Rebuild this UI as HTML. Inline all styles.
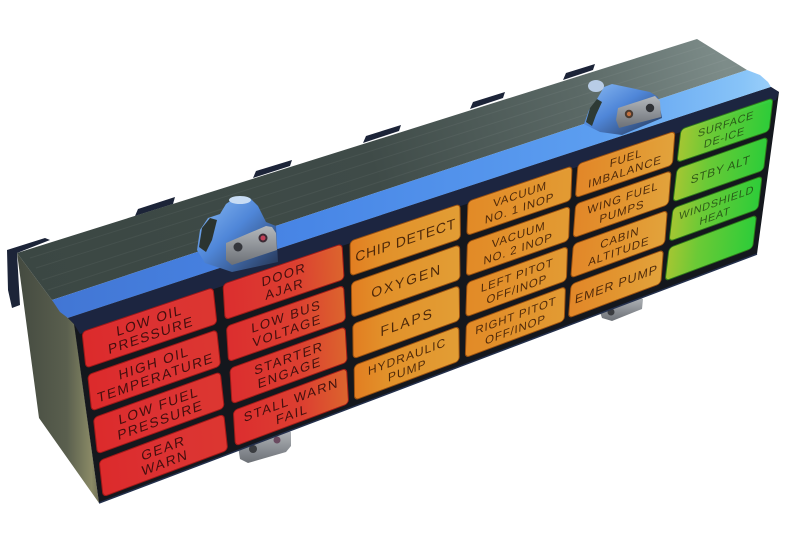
<!DOCTYPE html>
<html><head><meta charset="utf-8"><style>
html,body{margin:0;padding:0;background:#fff;}
svg{display:block;}
text{font-family:"Liberation Sans",sans-serif;}
</style></head><body>
<svg width="800" height="533" viewBox="0 0 800 533" xmlns="http://www.w3.org/2000/svg">
<defs>
<linearGradient id="topG" gradientUnits="userSpaceOnUse" x1="17" y1="253" x2="720" y2="50">
<stop offset="0" stop-color="#3b4743"/><stop offset="0.5" stop-color="#3f4b48"/><stop offset="0.8" stop-color="#5b6966"/><stop offset="1" stop-color="#7d8c89"/></linearGradient>
<linearGradient id="sideG" gradientUnits="userSpaceOnUse" x1="17" y1="0" x2="100" y2="0">
<stop offset="0" stop-color="#444a40"/><stop offset="0.6" stop-color="#5a5f4e"/><stop offset="0.9" stop-color="#8a8a66"/><stop offset="1" stop-color="#6e6e55"/></linearGradient>
<linearGradient id="bandG" gradientUnits="userSpaceOnUse" x1="52" y1="0" x2="780" y2="0">
<stop offset="0" stop-color="#4276d4"/><stop offset="0.35" stop-color="#4886e6"/><stop offset="0.75" stop-color="#5c9ef0"/><stop offset="0.95" stop-color="#88c4f8"/><stop offset="1" stop-color="#a0d2fa"/></linearGradient>
<linearGradient id="r1" x1="0" y1="0" x2="1" y2="0"><stop offset="0" stop-color="#ff2e2e"/><stop offset="0.5" stop-color="#ff3636"/><stop offset="1" stop-color="#ff3c34"/></linearGradient>
<linearGradient id="r2" x1="0" y1="0" x2="1" y2="0"><stop offset="0" stop-color="#ff3232"/><stop offset="0.6" stop-color="#ff4634"/><stop offset="1" stop-color="#ff7230"/></linearGradient>
<linearGradient id="o3" x1="0" y1="0" x2="1" y2="0"><stop offset="0" stop-color="#ff8c22"/><stop offset="0.3" stop-color="#ffa22c"/><stop offset="1" stop-color="#ffb038"/></linearGradient>
<linearGradient id="o4" x1="0" y1="0" x2="1" y2="0"><stop offset="0" stop-color="#ff9a28"/><stop offset="1" stop-color="#ffad36"/></linearGradient>
<linearGradient id="o5" x1="0" y1="0" x2="1" y2="0"><stop offset="0" stop-color="#ff962a"/><stop offset="0.5" stop-color="#ffa632"/><stop offset="1" stop-color="#ffb640"/></linearGradient>
<linearGradient id="g6" x1="0" y1="0" x2="1" y2="0"><stop offset="0" stop-color="#c8f238"/><stop offset="0.35" stop-color="#80f63c"/><stop offset="1" stop-color="#34fa40"/></linearGradient>
<linearGradient id="lugG" x1="0" y1="0" x2="1" y2="1"><stop offset="0" stop-color="#8cbcf4"/><stop offset="0.45" stop-color="#4f86d8"/><stop offset="1" stop-color="#24324e"/></linearGradient>
<linearGradient id="plateG" x1="0" y1="0" x2="0" y2="1"><stop offset="0" stop-color="#b4b8bc"/><stop offset="1" stop-color="#6c7076"/></linearGradient>
</defs>

<!-- back tabs -->
<polygon points="7,250 45,238 50,240 17,253 20,305 12,308 8,290" fill="#1c2438"/>
<polygon points="135,216 138,209 175,197 173,204" fill="#1c2438"/>
<polygon points="253,178 256,171 292,160 290,166" fill="#1c2438"/>
<polygon points="363,143 366,136 401,125 399,131" fill="#1c2438"/>
<polygon points="470,109 473,102 505,92 503,98" fill="#1c2438"/>
<polygon points="563,80 566,73 595,64 593,70" fill="#1c2438"/>

<!-- bottom lugs (behind bezel) -->
<polygon points="238,446 284,429 291,432 291,446 286,452 248,463 240,459" fill="url(#plateG)"/>
<circle cx="253" cy="449" r="4" fill="#3a3c40"/>
<circle cx="277" cy="440" r="3.5" fill="#6a4a60"/>
<polygon points="600,312 636,296 643,299 642,309 612,321 602,318" fill="url(#plateG)"/>
<circle cx="611" cy="312" r="3.5" fill="#3a3c40"/>

<!-- left side face -->
<polygon points="17,253 52,300 68,318 74,322 99,503 39,418" fill="url(#sideG)"/>
<!-- top face -->
<polygon points="17,253 697,39 747,70 52,300" fill="url(#topG)"/>
<g stroke="#ffffff" stroke-opacity="0.05" stroke-width="1">
<line x1="30" y1="258" x2="705" y2="46"/><line x1="36" y1="268" x2="715" y2="53"/><line x1="42" y1="280" x2="728" y2="59"/><line x1="48" y1="290" x2="738" y2="65"/>
</g>
<!-- blue band -->
<polygon points="52,300 747,70 760,75 768,82 771,87 68,318 60,312" fill="url(#bandG)"/>
<!-- bezel -->
<polygon points="68,318 771,87 779,92 757,254 99,503 74,324" fill="#14171d"/>
<polygon points="68,318 771,87 779,92 776,100 80,334 74,324" fill="#1c2540"/>
<line x1="99" y1="503" x2="757" y2="254" stroke="#24304c" stroke-width="1.5"/>

<!-- top lugs -->
<polygon points="197,250 200,230 208,218 220,214 226,204 236,197 250,198 258,206 266,222 276,226 278,262 232,272 205,263" fill="url(#lugG)"/>
<polygon points="199,247 202,228 210,218 217,220 212,240 206,252" fill="#2b3430"/>
<ellipse cx="240" cy="200" rx="11" ry="4" fill="#c8dcf4"/>
<polygon points="226,243 266,226 272,227 276,233 277,250 232,265 226,260" fill="url(#plateG)"/>
<circle cx="238" cy="247" r="4.5" fill="#34363c"/>
<circle cx="263" cy="238" r="4.5" fill="#3a2a34"/><circle cx="263" cy="238" r="2.5" fill="#c04058"/>

<polygon points="584,124 589,110 597,99 604,87 612,84 650,92 658,97 662,118 622,135 600,132" fill="url(#lugG)"/>
<polygon points="586,122 590,108 597,99 602,102 596,115 592,126" fill="#2e3a34"/>
<ellipse cx="596" cy="86" rx="8" ry="6" fill="#b8cce6"/>
<polygon points="618,108 655,96 660,101 661,117 619,128 616,120" fill="url(#plateG)"/>
<circle cx="629" cy="114" r="4.2" fill="#4a3a30"/><circle cx="629" cy="114" r="2.2" fill="#c07040"/>
<circle cx="650" cy="108" r="4.2" fill="#303236"/>

<!-- Column 1 -->
<g fill="#2a0808" fill-opacity="0.85" font-size="13.5" letter-spacing="1.4" text-anchor="middle">
<g transform="matrix(1 -0.3386 0.1096 1 82 332)"><rect width="131" height="36" rx="4" fill="url(#r1)" stroke="#a01818" stroke-width="1"/><text x="66.2" y="15.5">LOW OIL</text><text x="66.2" y="30.1">PRESSURE</text></g>
<g transform="matrix(1 -0.3499 0.1096 1 87.72 374.9)"><rect width="128.9" height="36" rx="4" fill="url(#r1)" stroke="#a01818" stroke-width="1"/><text x="65.1" y="15.5">HIGH OIL</text><text x="65.1" y="30.1">TEMPERATURE</text></g>
<g transform="matrix(1 -0.3616 0.1096 1 93.44 417.8)"><rect width="126.8" height="36" rx="4" fill="url(#r1)" stroke="#a01818" stroke-width="1"/><text x="64.1" y="15.5">LOW FUEL</text><text x="64.1" y="30.1">PRESSURE</text></g>
<g transform="matrix(1 -0.3737 0.1096 1 99.16 460.7)"><rect width="124.6" height="36" rx="4" fill="url(#r1)" stroke="#a01818" stroke-width="1"/><text x="63" y="15.5">GEAR</text><text x="63" y="30.1">WARN</text></g>
</g>
<!-- Column 2 -->
<g fill="#2a0808" fill-opacity="0.85" font-size="13" letter-spacing="1.4" text-anchor="middle">
<g transform="matrix(1 -0.3387 0.0593 1 223 284.26)"><rect width="119" height="35.3" rx="4" fill="url(#r2)" stroke="#a01c18" stroke-width="1"/><text x="60.2" y="15.2">DOOR</text><text x="60.2" y="29.5">AJAR</text></g>
<g transform="matrix(1 -0.3499 0.0593 1 226.44 326.36)"><rect width="117.1" height="35.3" rx="4" fill="url(#r2)" stroke="#a01c18" stroke-width="1"/><text x="59.2" y="15.2">LOW BUS</text><text x="59.2" y="29.5">VOLTAGE</text></g>
<g transform="matrix(1 -0.3616 0.0593 1 229.88 368.46)"><rect width="115.2" height="35.3" rx="4" fill="url(#r2)" stroke="#a01c18" stroke-width="1"/><text x="58.3" y="15.2">STARTER</text><text x="58.3" y="29.5">ENGAGE</text></g>
<g transform="matrix(1 -0.3737 0.0593 1 233.32 410.56)"><rect width="113.2" height="35.3" rx="4" fill="url(#r2)" stroke="#a01c18" stroke-width="1"/><text x="57.3" y="15.2">STALL WARN</text><text x="57.3" y="29.5">FAIL</text></g>
</g>
<!-- Column 3 -->
<g fill="#3a1a05" fill-opacity="0.88" text-anchor="middle">
<g transform="matrix(1 -0.3386 0.0121 1 350 241.26)"><rect width="110" height="34.75" rx="4" fill="url(#o3)" stroke="#9a5010" stroke-width="1"/><text x="55.4" y="22.4" font-size="14" letter-spacing="0.7">CHIP DETECT</text></g>
<g transform="matrix(1 -0.3499 0.0121 1 351.39 282.64)"><rect width="108.2" height="34.75" rx="4" fill="url(#o3)" stroke="#9a5010" stroke-width="1"/><text x="55" y="22.4" font-size="14" letter-spacing="1.8">OXYGEN</text></g>
<g transform="matrix(1 -0.3616 0.0121 1 352.77 324.02)"><rect width="106.4" height="34.75" rx="4" fill="url(#o3)" stroke="#9a5010" stroke-width="1"/><text x="54.1" y="22.4" font-size="14" letter-spacing="1.8">FLAPS</text></g>
<g transform="matrix(1 -0.3737 0.0121 1 354.16 365.4)" font-size="12" letter-spacing="1"><rect width="104.7" height="34.75" rx="4" fill="url(#o3)" stroke="#9a5010" stroke-width="1"/><text x="52.8" y="14.9">HYDRAULIC</text><text x="52.8" y="29">PUMP</text></g>
</g>
<!-- Column 4 -->
<g fill="#3a1a05" fill-opacity="0.88" font-size="11.5" letter-spacing="0.8" text-anchor="middle">
<g transform="matrix(1 -0.3386 -0.0338 1 468 201.3)"><rect width="104" height="34.2" rx="4" fill="url(#o4)" stroke="#9a5010" stroke-width="1"/><text x="52.4" y="14.7">VACUUM</text><text x="52.4" y="28.6">NO. 1 INOP</text></g>
<g transform="matrix(1 -0.3499 -0.0338 1 467.48 242.01)"><rect width="102.3" height="34.2" rx="4" fill="url(#o4)" stroke="#9a5010" stroke-width="1"/><text x="51.5" y="14.7">VACUUM</text><text x="51.5" y="28.6">NO. 2 INOP</text></g>
<g transform="matrix(1 -0.3616 -0.0338 1 466.95 282.73)"><rect width="100.6" height="34.2" rx="4" fill="url(#o4)" stroke="#9a5010" stroke-width="1"/><text x="50.7" y="14.7">LEFT PITOT</text><text x="50.7" y="28.6">OFF/INOP</text></g>
<g transform="matrix(1 -0.3737 -0.0338 1 466.43 323.44)"><rect width="99" height="34.2" rx="4" fill="url(#o4)" stroke="#9a5010" stroke-width="1"/><text x="49.9" y="14.7">RIGHT PITOT</text><text x="49.9" y="28.6">OFF/INOP</text></g>
</g>
<!-- Column 5 -->
<g fill="#3a1a05" fill-opacity="0.88" font-size="11.5" letter-spacing="0.8" text-anchor="middle">
<g transform="matrix(1 -0.3386 -0.0775 1 578 164.05)"><rect width="97" height="33.7" rx="4" fill="url(#o5)" stroke="#9a5010" stroke-width="1"/><text x="48.9" y="14.5">FUEL</text><text x="48.9" y="28.1">IMBALANCE</text></g>
<g transform="matrix(1 -0.3499 -0.0775 1 575.7 204.14)"><rect width="95.4" height="33.7" rx="4" fill="url(#o5)" stroke="#9a5010" stroke-width="1"/><text x="48.1" y="14.5">WING FUEL</text><text x="48.1" y="28.1">PUMPS</text></g>
<g transform="matrix(1 -0.3616 -0.0775 1 573.4 244.23)"><rect width="93.9" height="33.7" rx="4" fill="url(#o5)" stroke="#9a5010" stroke-width="1"/><text x="47.3" y="14.5">CABIN</text><text x="47.3" y="28.1">ALTITUDE</text></g>
<g transform="matrix(1 -0.3737 -0.0775 1 571.1 284.32)"><rect width="92.3" height="33.7" rx="4" fill="url(#o5)" stroke="#9a5010" stroke-width="1"/><text x="46.6" y="21.4" font-size="12.5">EMER PUMP</text></g>
</g>
<!-- Column 6 -->
<g fill="#1e3e10" fill-opacity="0.8" font-size="11" letter-spacing="0.6" text-anchor="middle">
<g transform="matrix(1 -0.3389 -0.1201 1 681 129.18)"><rect width="92" height="33.2" rx="4" fill="url(#g6)" stroke="#2e7a1a" stroke-width="1"/><text x="46.3" y="14.3">SURFACE</text><text x="46.3" y="27.7">DE-ICE</text></g>
<g transform="matrix(1 -0.3501 -0.1201 1 677.03 168.68)"><rect width="90.5" height="33.2" rx="4" fill="url(#g6)" stroke="#2e7a1a" stroke-width="1"/><text x="45.6" y="20.9" font-size="12">STBY ALT</text></g>
<g transform="matrix(1 -0.3617 -0.1201 1 673.06 208.19)"><rect width="89" height="33.2" rx="4" fill="url(#g6)" stroke="#2e7a1a" stroke-width="1"/><text x="44.8" y="14.3">WINDSHIELD</text><text x="44.8" y="27.7">HEAT</text></g>
<g transform="matrix(1 -0.3739 -0.1201 1 669.1 247.69)"><rect width="87.5" height="33.2" rx="4" fill="url(#g6)" stroke="#2e7a1a" stroke-width="1"/></g>
</g>
</svg>
</body></html>
